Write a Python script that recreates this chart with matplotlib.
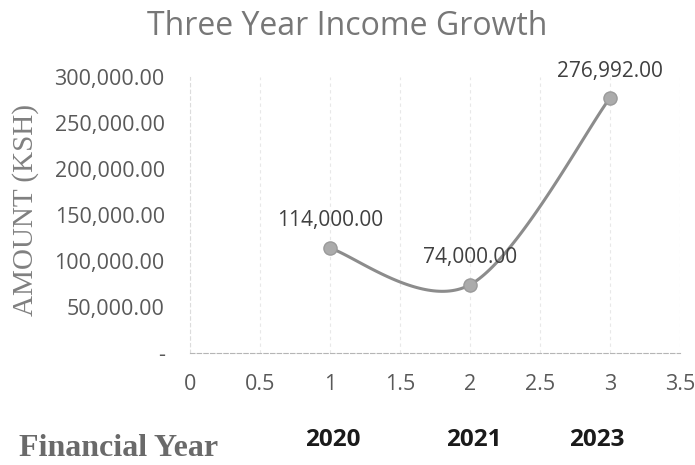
import numpy as np
import matplotlib.pyplot as plt

# data
x_vals = [1, 2, 3]
income = [114000, 74000, 276992]
year_labels = ["2020", "2021", "2023"]
x_ticks = [0, 0.5, 1, 1.5, 2, 2.5, 3, 3.5]
y_ticks = [0, 50000, 100000, 150000, 200000, 250000, 300000]


def smooth_curve(xs, ys, n=60):
    # Catmull-Rom through the points, like Excel's "smoothed line"
    p = np.column_stack([xs, ys]).astype(float)
    p = np.vstack([p[0], p, p[-1]])
    out = []
    for i in range(1, len(p) - 2):
        p0, p1, p2, p3 = p[i - 1], p[i], p[i + 1], p[i + 2]
        t = np.linspace(0, 1, n)[:, None]
        seg = 0.5 * ((2 * p1) + (-p0 + p2) * t
                     + (2 * p0 - 5 * p1 + 4 * p2 - p3) * t ** 2
                     + (-p0 + 3 * p1 - 3 * p2 + p3) * t ** 3)
        out.append(seg)
    out = np.vstack(out)
    return out[:, 0], out[:, 1]


fig = plt.figure(figsize=(6.95, 4.65), dpi=100)
ax = fig.add_axes([0.273, 0.241, 0.705, 0.593])

sx, sy = smooth_curve(x_vals, income)
ax.plot(sx, sy, color="#8c8c8c", lw=2.2, zorder=3)
ax.scatter(x_vals, income, s=90, color="#ababab", edgecolor="#9a9a9a", zorder=4)

for x, y in zip(x_vals, income):
    ax.annotate(f"{y:,.2f}", (x, y), xytext=(0, 12), textcoords="offset points",
                ha="center", va="bottom", fontsize=15, color="#404040",
                family="Open Sans")

ax.set_xlim(0, 3.5)
ax.set_ylim(0, 300000)
ax.set_xticks(x_ticks)
ax.set_xticklabels([f"{t:g}" for t in x_ticks])
ax.set_yticks(y_ticks)
ax.set_yticklabels(["-" if t == 0 else f"{t:,.2f}" for t in y_ticks])
ax.tick_params(length=0, labelsize=15.5, labelcolor="#595959")
ax.tick_params(axis="x", pad=15)
ax.tick_params(axis="y", pad=18)
for lab in ax.get_xticklabels() + ax.get_yticklabels():
    lab.set_family("Open Sans")

ax.grid(axis="x", color="#e8e8e8", lw=0.8, ls=(0, (3, 3)))
for s in ["top", "right"]:
    ax.spines[s].set_visible(False)
ax.spines["left"].set_color("#dcdcdc")
ax.spines["left"].set_linestyle((0, (3, 3)))
ax.spines["bottom"].set_color("#b5b5b5")
ax.spines["bottom"].set_linestyle((0, (4, 2)))

fig.text(0.5, 0.925, "Three Year Income Growth", ha="center", va="baseline",
         fontsize=23, color="#777777", family="Open Sans")
fig.text(0.037, 0.548, "AMOUNT (KSH)", rotation=90, ha="center", va="center",
         fontsize=21, color="#808080", family="Liberation Serif")
fig.text(0.028, 0.036, "Financial Year", ha="left", va="center",
         fontsize=23, color="#6a6a6a", family="Liberation Serif", fontweight="bold")

# the year captions sit under the chart, not exactly under the points
year_pos = [0.479, 0.682, 0.859]
for px, lab in zip(year_pos, year_labels):
    fig.text(px, 0.054, lab, ha="center", va="center",
             fontsize=17.5, fontweight="bold", color="#1a1a1a", family="Open Sans")

fig.savefig("out.png", dpi=100, facecolor="white")
